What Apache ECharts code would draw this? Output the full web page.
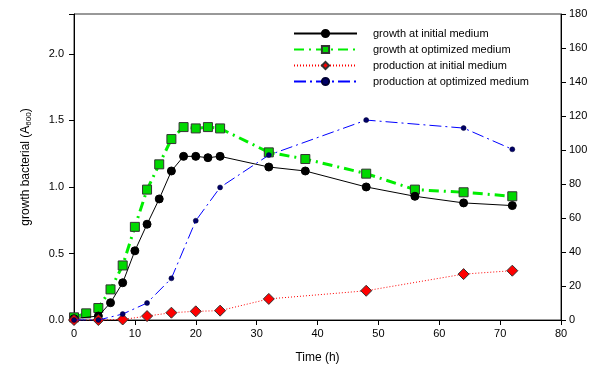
<!DOCTYPE html>
<html>
<head>
<meta charset="utf-8">
<script src="https://cdn.jsdelivr.net/npm/echarts@6/dist/echarts.min.js"></script>
<style>
  html, body { margin: 0; padding: 0; background: #fff; }
  #chart { width: 602px; height: 374px; }
</style>
</head>
<body>
<div id="chart"></div>
<script>
// Sampling times (h) for each series
const growthInitialTime = [0, 4, 6, 8, 10, 12, 14, 16, 18, 20, 22, 24, 32, 38, 48, 56, 64, 72];
const growthInitialValue = [0.01, 0.03, 0.13, 0.28, 0.52, 0.72, 0.91, 1.12, 1.23, 1.23, 1.22, 1.23, 1.15, 1.12, 1.00, 0.93, 0.88, 0.86];

const growthOptimizedTime = [0, 2, 4, 6, 8, 10, 12, 14, 16, 18, 20, 22, 24, 32, 38, 48, 56, 64, 72];
const growthOptimizedValue = [0.02, 0.05, 0.09, 0.23, 0.41, 0.70, 0.98, 1.17, 1.36, 1.45, 1.44, 1.45, 1.44, 1.26, 1.21, 1.10, 0.98, 0.96, 0.93];

const productionInitialTime = [0, 4, 8, 12, 16, 20, 24, 32, 48, 64, 72];
const productionInitialValue = [0, 0, 0.3, 2.3, 4.3, 5.1, 5.5, 12.4, 17.2, 27, 29];

const productionOptimizedTime = [0, 4, 8, 12, 16, 20, 24, 32, 48, 64, 72];
const productionOptimizedValue = [0, 0, 3.5, 10, 24.5, 58.4, 78, 97, 117.6, 112.9, 100.4];

const seriesNames = [
  'growth at initial medium',
  'growth at optimized medium',
  'production at initial medium',
  'production at optimized medium'
];

const pairs = (t, v) => t.map((x, i) => [x, v[i]]);
const FONT = '"Liberation Sans", Arial, sans-serif';

const chart = echarts.init(document.getElementById('chart'), null, { renderer: 'canvas' });

chart.setOption({
  animation: false,
  backgroundColor: '#ffffff',
  textStyle: { fontFamily: FONT },
  grid: {
    left: 74, right: 41, top: 14, bottom: 54,
    show: true, borderColor: '#333', borderWidth: 1, backgroundColor: 'transparent'
  },
  legend: {
    orient: 'vertical',
    left: 293, top: 28,
    padding: 0,
    itemWidth: 63, itemHeight: 9, itemGap: 5,
    data: seriesNames,
    textStyle: { fontSize: 11, color: '#000', fontFamily: FONT, padding: [0, 0, 0, 11] }
  },
  xAxis: {
    type: 'value',
    min: 0, max: 80, interval: 10,
    name: 'Time (h)',
    nameLocation: 'middle',
    nameGap: 32,
    nameTextStyle: { fontSize: 12, color: '#000', fontFamily: FONT },
    axisLine: { show: true, lineStyle: { color: '#000', width: 1 } },
    axisTick: { show: true, inside: false, length: 5, lineStyle: { color: '#000' } },
    axisLabel: { fontSize: 11, color: '#000', margin: 8, fontFamily: FONT },
    splitLine: { show: false }
  },
  yAxis: [
    {
      type: 'value',
      min: 0, max: 2.3, interval: 0.5,
      name: '{a|growth bacterial (A}{s|600}{a|)}',
      nameLocation: 'middle',
      nameRotate: 90,
      nameGap: 41,
      nameTextStyle: {
        rich: {
          a: { fontSize: 12, color: '#000', fontFamily: FONT },
          s: { fontSize: 8, color: '#000', fontFamily: FONT, padding: [6, 0, 0, 0] }
        }
      },
      axisLine: { show: true, lineStyle: { color: '#000', width: 1 } },
      axisTick: { show: true, inside: false, length: 5, lineStyle: { color: '#000' } },
      axisLabel: {
        fontSize: 11, color: '#000', margin: 10, fontFamily: FONT,
        formatter: v => (Math.abs(v / 0.5 - Math.round(v / 0.5)) < 1e-6 ? v.toFixed(1) : '')
      },
      splitLine: { show: false }
    },
    {
      type: 'value',
      position: 'right',
      min: 0, max: 180, interval: 20,
      axisLine: { show: true, lineStyle: { color: '#000', width: 1 } },
      axisTick: { show: true, inside: false, length: 5, lineStyle: { color: '#000' } },
      axisLabel: { fontSize: 11, color: '#000', margin: 8, fontFamily: FONT },
      splitLine: { show: false }
    }
  ],
  series: [
    {
      name: seriesNames[0],
      type: 'line',
      yAxisIndex: 0,
      data: pairs(growthInitialTime, growthInitialValue),
      symbol: 'circle', symbolSize: 8,
      lineStyle: { color: '#000', width: 1, type: 'solid' },
      itemStyle: { color: '#000', borderColor: '#000', borderWidth: 1 },
      z: 4
    },
    {
      name: seriesNames[1],
      type: 'line',
      yAxisIndex: 0,
      data: pairs(growthOptimizedTime, growthOptimizedValue),
      symbol: 'rect', symbolSize: 9,
      lineStyle: { color: '#00ee00', width: 3, type: [10, 5, 2, 5] },
      itemStyle: { color: '#00d800', borderColor: '#333', borderWidth: 1 },
      z: 3
    },
    {
      name: seriesNames[2],
      type: 'line',
      yAxisIndex: 1,
      data: pairs(productionInitialTime, productionInitialValue),
      symbol: 'diamond', symbolSize: 11,
      lineStyle: { color: '#ff0000', width: 1, type: [1, 2] },
      itemStyle: { color: '#ff0000', borderColor: '#333', borderWidth: 1 },
      z: 5
    },
    {
      name: seriesNames[3],
      type: 'line',
      yAxisIndex: 1,
      data: pairs(productionOptimizedTime, productionOptimizedValue),
      symbol: 'circle', symbolSize: 5,
      lineStyle: { color: '#0000ff', width: 1, type: [12, 4, 2, 4] },
      itemStyle: { color: '#000066', borderColor: '#000033', borderWidth: 0.5 },
      z: 6
    }
  ]
});
</script>
</body>
</html>
